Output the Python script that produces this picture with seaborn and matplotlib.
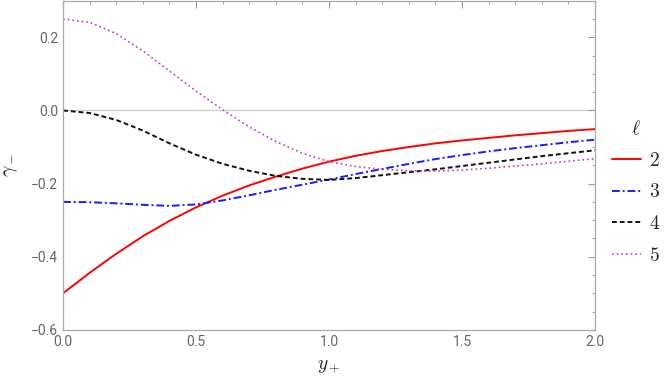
import numpy as np
import pandas as pd
import matplotlib
matplotlib.use("Agg")
import matplotlib.pyplot as plt
import seaborn as sns
from matplotlib.ticker import MultipleLocator

y_plus = np.round(np.arange(0, 2.01, 0.1), 2)
gamma_l2 = [-0.500, -0.444, -0.392, -0.344, -0.302, -0.265, -0.233, -0.205, -0.181, -0.159, -0.140,
            -0.124, -0.111, -0.100, -0.090, -0.082, -0.075, -0.068, -0.062, -0.056, -0.051]
gamma_l3 = [-0.250, -0.251, -0.254, -0.258, -0.261, -0.257, -0.246, -0.232, -0.217, -0.203, -0.189,
            -0.174, -0.160, -0.146, -0.133, -0.122, -0.112, -0.103, -0.095, -0.087, -0.080]
gamma_l4 = [0.000, -0.007, -0.026, -0.055, -0.090, -0.121, -0.146, -0.165, -0.179, -0.187, -0.190,
            -0.185, -0.177, -0.169, -0.161, -0.152, -0.143, -0.134, -0.125, -0.117, -0.109]
gamma_l5 = [0.250, 0.241, 0.210, 0.163, 0.108, 0.053, 0.002, -0.045, -0.085, -0.117, -0.140,
            -0.153, -0.161, -0.165, -0.166, -0.163, -0.158, -0.152, -0.146, -0.139, -0.132]
ells = ["2", "3", "4", "5"]

series = {"2": gamma_l2, "3": gamma_l3, "4": gamma_l4, "5": gamma_l5}
styles = {
    "2": dict(color="#ff0000", linestyle="-", linewidth=1.4),
    "3": dict(color="#1a1aff", linestyle=(0, (4, 1.5, 1, 1.5)), linewidth=1.4),
    "4": dict(color="#111111", linestyle=(0, (2.5, 1.5)), linewidth=1.4),
    "5": dict(color="#cc33cc", linestyle=(0, (1, 1.8)), linewidth=1.2),
}

sns.set_style("white")
plt.rcParams["mathtext.fontset"] = "cm"
plt.rcParams["font.family"] = ["Roboto", "DejaVu Sans"]

fig = plt.figure(figsize=(6.64, 3.8), dpi=100)
ax = fig.add_axes([0.095, 0.132, 0.801, 0.866])

ax.axhline(0, color="#cccccc", linewidth=0.9, zorder=0)

for ell in ells:
    df = pd.DataFrame({"y_plus": y_plus, "gamma": series[ell]})
    sns.lineplot(data=df, x="y_plus", y="gamma", ax=ax, label=f"${ell}$", **styles[ell])

ax.set_xlim(0, 2)
ax.set_ylim(-0.6, 0.3)
ax.xaxis.set_minor_locator(MultipleLocator(0.1))
ax.yaxis.set_minor_locator(MultipleLocator(0.05))
ax.set_xticks([0, 0.5, 1.0, 1.5, 2.0])
ax.set_xticklabels(["0.0", "0.5", "1.0", "1.5", "2.0"])
ax.set_yticks([-0.6, -0.4, -0.2, 0.0, 0.2])
ax.set_yticklabels(["\u22120.6", "\u22120.4", "\u22120.2", "0.0", "0.2"])

ax.tick_params(which="both", direction="in", top=True, right=True, color="#999999",
               labelcolor="#666666", labelsize=10)
ax.tick_params(which="major", length=5, width=0.8)
ax.tick_params(which="minor", length=2.5, width=0.6)
for sp in ax.spines.values():
    sp.set_color("#aaaaaa")
    sp.set_linewidth(0.9)

ax.set_xlabel("$y_+$", fontsize=14, labelpad=6)
ax.set_ylabel("$\\gamma_-$", fontsize=14, labelpad=8)

handles, labels = ax.get_legend_handles_labels()
ax.get_legend().remove()
fig.legend(handles, labels, title="$\\ell$", loc="upper left", bbox_to_anchor=(0.921, 0.685),
           frameon=False, fontsize=14, title_fontsize=14, handlelength=1.5,
           handletextpad=0.45, labelspacing=0.7, borderpad=0, borderaxespad=0)

fig.savefig("out.png", dpi=100)
